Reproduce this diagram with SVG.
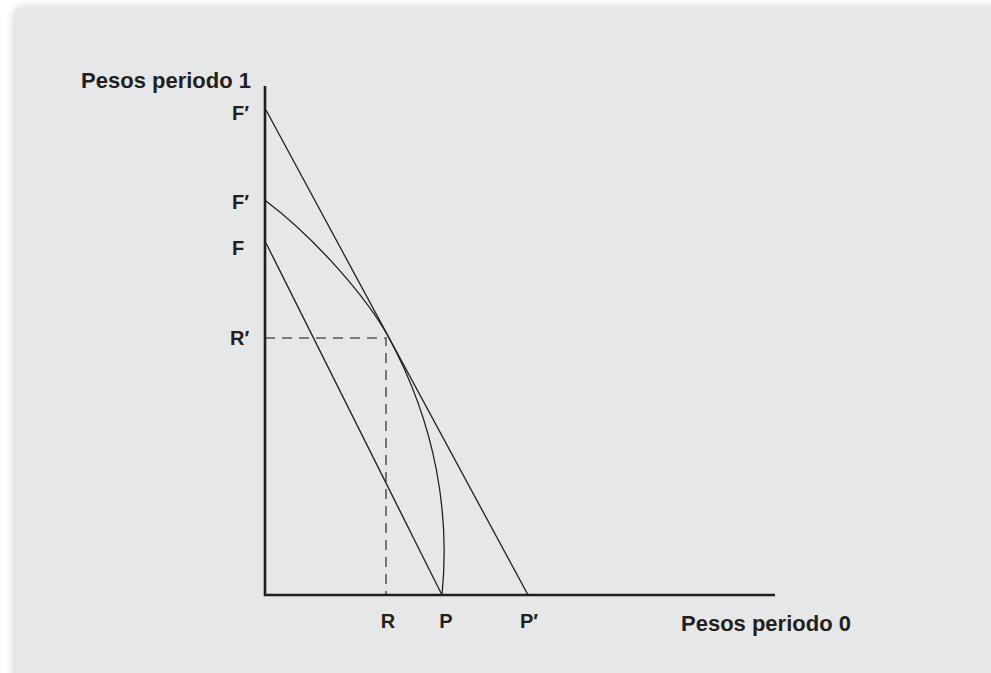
<svg xmlns="http://www.w3.org/2000/svg" width="991" height="673" viewBox="0 0 991 673">
  <defs>
    <filter id="shadow" x="-5%" y="-5%" width="110%" height="110%">
      <feGaussianBlur stdDeviation="3"/>
    </filter>
    <style>
      .lbl { font-family: "Liberation Sans", Arial, sans-serif; font-weight: bold; fill: #231f20; }
      .ax { stroke: #231f20; stroke-width: 2.6; fill: none; }
      .ln { stroke: #231f20; stroke-width: 1.3; fill: none; }
      .dash { stroke: #58595b; stroke-width: 1.6; fill: none; stroke-dasharray: 10 7; }
    </style>
  </defs>
  <rect x="0" y="0" width="991" height="673" fill="#ffffff"/>
  <rect x="12" y="5" width="1000" height="700" rx="12" fill="#c8c9cb" filter="url(#shadow)" opacity="0.6"/>
  <rect x="14" y="7" width="1000" height="700" rx="12" fill="#e6e7e8"/>

  <g id="connectors">
    <!-- dashed guides -->
    <path class="dash" d="M265,338 H386 V595"/>
    <!-- budget line F'P' -->
    <line class="ln" x1="266" y1="110" x2="528" y2="595"/>
    <!-- budget line FP -->
    <line class="ln" x1="266" y1="243" x2="442" y2="595"/>
    <!-- investment opportunity curve -->
    <path class="ln" d="M266,201 C316,239 367.6,298.4 389,338 C436.5,426 450,515 442,595"/>
    <!-- axes -->
    <line class="ax" x1="265" y1="86" x2="265" y2="596"/>
    <line class="ax" x1="264" y1="595" x2="775" y2="595"/>
  </g>

  <g id="axis-labels">
    <text class="lbl" x="251" y="88" font-size="22" text-anchor="end">Pesos periodo 1</text>
    <text class="lbl" x="681" y="631" font-size="22">Pesos periodo 0</text>
  </g>

  <g id="y-labels">
    <text class="lbl" x="232" y="120" font-size="20">F′</text>
    <text class="lbl" x="232" y="209" font-size="20">F′</text>
    <text class="lbl" x="232" y="255" font-size="20">F</text>
    <text class="lbl" x="230" y="345" font-size="20">R′</text>
  </g>

  <g id="x-labels">
    <text class="lbl" x="388" y="628" font-size="20" text-anchor="middle">R</text>
    <text class="lbl" x="446" y="628" font-size="20" text-anchor="middle">P</text>
    <text class="lbl" x="520" y="628" font-size="20">P′</text>
  </g>
</svg>
